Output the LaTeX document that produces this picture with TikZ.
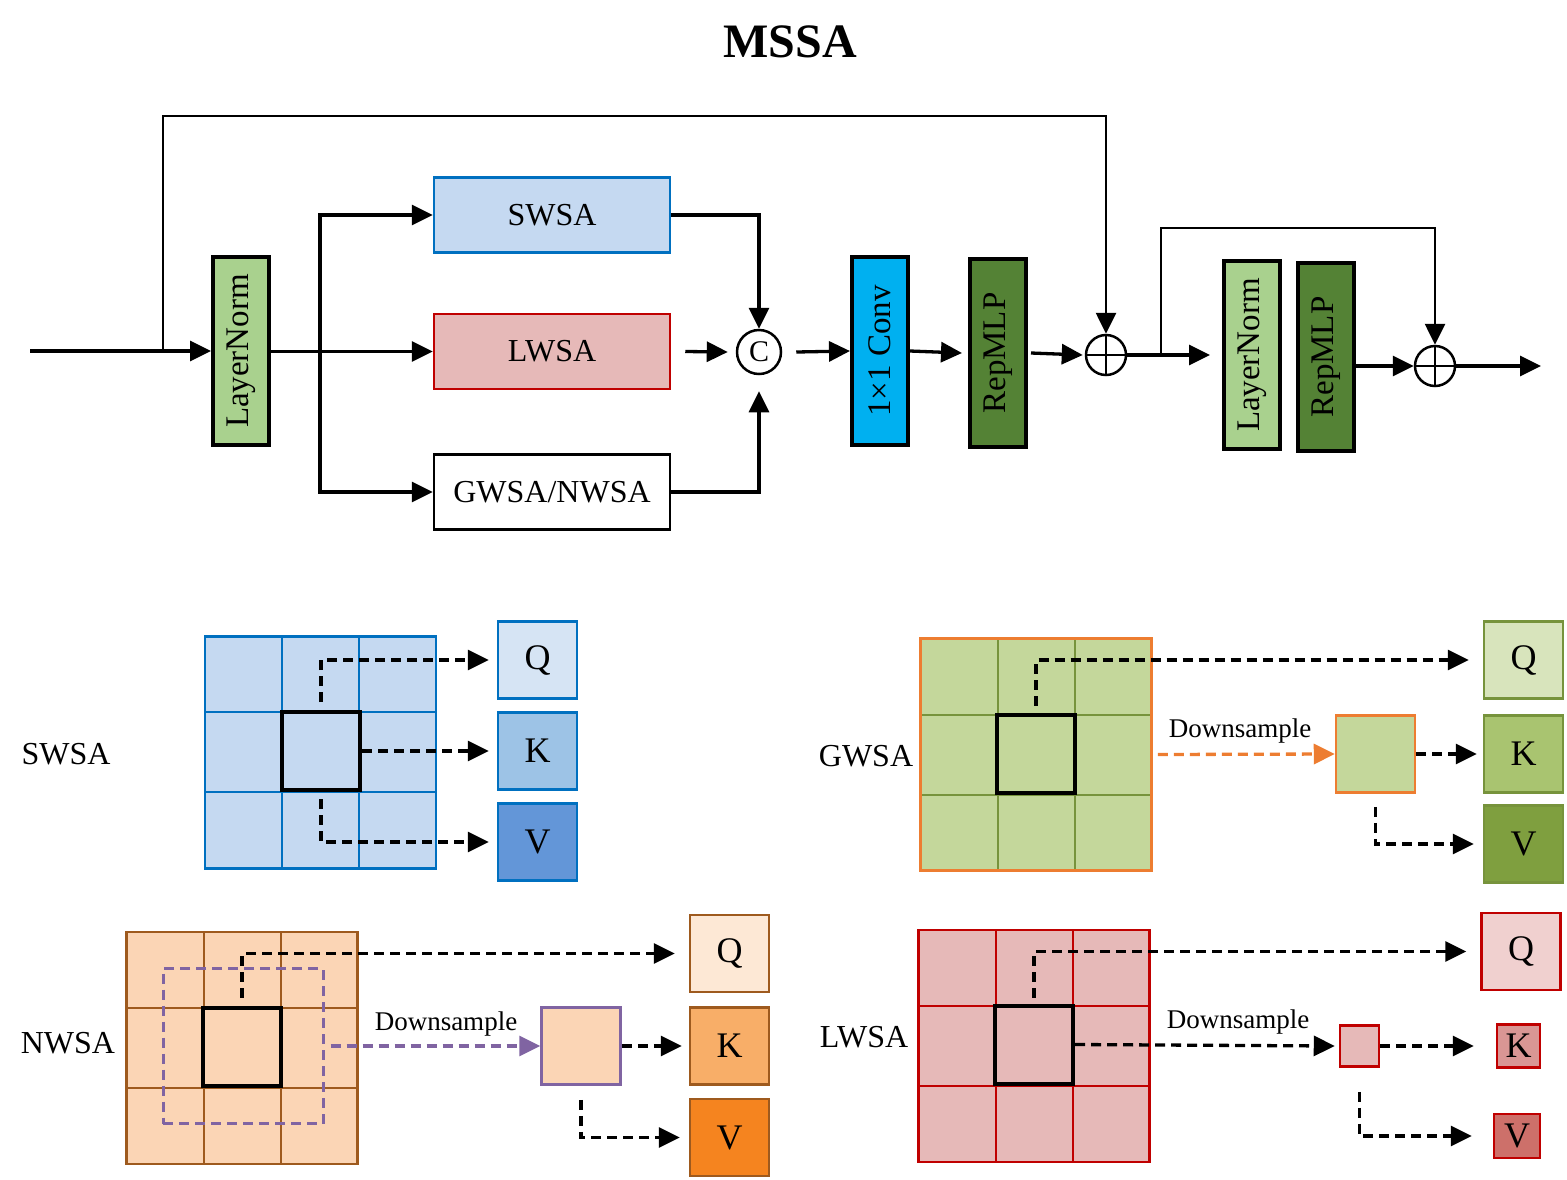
\documentclass[tikz,border=0pt]{standalone}
\usepackage{fontspec}
\setmainfont{Liberation Serif}
\usepackage{graphicx}
\usepackage{xcolor}
\usetikzlibrary{arrows.meta, positioning}

\definecolor{lnG}{HTML}{A9D18E}
\definecolor{mlpG}{HTML}{548235}
\definecolor{convB}{HTML}{00B0F0}
\definecolor{swB}{HTML}{C5D9F1}
\definecolor{swL}{HTML}{0070C0}
\definecolor{swQ}{HTML}{D6E4F4}
\definecolor{swK}{HTML}{9DC3E6}
\definecolor{swV}{HTML}{6396D8}
\definecolor{lwR}{HTML}{E6B9B8}
\definecolor{lwL}{HTML}{C00000}
\definecolor{lwQ}{HTML}{F0D0CF}
\definecolor{lwK}{HTML}{D99694}
\definecolor{lwV}{HTML}{CD706A}
\definecolor{gwG}{HTML}{C4D79B}
\definecolor{gwL}{HTML}{77933C}
\definecolor{gwO}{HTML}{ED7D31}
\definecolor{gwQ}{HTML}{D8E4BC}
\definecolor{gwK}{HTML}{A9C470}
\definecolor{gwV}{HTML}{7F9F3F}
\definecolor{nwP}{HTML}{FBD5B5}
\definecolor{nwL}{HTML}{9E5A1E}
\definecolor{nwU}{HTML}{8064A2}
\definecolor{nwQ}{HTML}{FDE8D5}
\definecolor{nwK}{HTML}{F8AE68}
\definecolor{nwV}{HTML}{F5841F}

\begin{document}
\begin{tikzpicture}[x=1pt, y=-1pt,
  hbox/.style={draw, line width=2.5pt, minimum width=236pt, minimum height=75pt,
               inner sep=0pt, font=\fontsize{32}{38}\selectfont},
  vbox/.style={draw, line width=4pt, minimum width=56pt, minimum height=188pt,
               inner sep=0pt, font=\fontsize{33}{38}\selectfont},
  catc/.style={circle, draw, line width=2.5pt, minimum size=44pt, inner sep=0pt,
               font=\fontsize{30}{34}\selectfont},
  addc/.style={circle, draw, line width=2.5pt, minimum size=40pt, inner sep=0pt,
               path picture={\draw[line width=2pt]
                 (path picture bounding box.north) -- (path picture bounding box.south)
                 (path picture bounding box.west) -- (path picture bounding box.east);}},
  arr/.style={-{Triangle[length=21pt,width=20pt]}, line width=3.3pt},
  darr/.style={arr, line width=3.3pt, dash pattern=on 10pt off 6pt},
  gridbox/.style={draw, line width=2.5pt, minimum width=231pt, minimum height=232pt, inner sep=0pt},
  winbox/.style={draw, line width=4pt, minimum width=78pt, minimum height=78pt, inner sep=0pt},
  qkv/.style={draw, line width=2.5pt, minimum width=79pt, minimum height=77pt,
              inner sep=0pt, font=\fontsize{36}{40}\selectfont},
  sqkv/.style={qkv, minimum width=43pt, minimum height=43pt},
  lbl/.style={font=\fontsize{32}{38}\selectfont},
  ds/.style={font=\fontsize{27}{32}\selectfont}]
\useasboundingbox (0,0) rectangle (1567,1179);

\node[font=\fontsize{48}{54}\selectfont\bfseries] (title) at (790,42) {MSSA};

% top block
\node[vbox, fill=lnG] (ln1) at (241,351) {\rotatebox{90}{LayerNorm}};
\node[hbox, fill=swB, draw=swL] (swsa) at (552,215) {SWSA};
\node[hbox, fill=lwR, draw=lwL] (lwsa) at (552,351.5) {LWSA};
\node[hbox, fill=white] (gwsa) at (552,492) {GWSA/NWSA};
\node[catc] (cat) at (759,352) {C};
\node[vbox, fill=convB] (conv) at (880,351) {\rotatebox{90}{1×1 Conv}};
\node[vbox, fill=mlpG] (mlp1) at (998,353) {\rotatebox{90}{RepMLP}};
\node[addc] (add1) at (1106,355) {};
\node[vbox, fill=lnG] (ln2) at (1252,355) {\rotatebox{90}{LayerNorm}};
\node[vbox, fill=mlpG] (mlp2) at (1326,357) {\rotatebox{90}{RepMLP}};
\node[addc] (add2) at (1435,366) {};

\coordinate (in) at (30,351);
\coordinate (sk) at (163,351);
\coordinate (skt) at (163,116);
\coordinate (br) at (320,351.5);
\coordinate (br2) at (1161,355);
\coordinate (br2t) at (1161,228);
\coordinate (out) at (1541,366);

\draw[arr] (in) -- (ln1.west);
\draw[arr, line width=2.7pt] (sk) -- (skt) -| (add1.north);
\draw[arr] (ln1.east |- lwsa.west) -- (lwsa.west);
\draw[arr] (br) |- (swsa.west);
\draw[arr] (br) |- (gwsa.west);
\draw[arr] (swsa.east) -| (cat.north);
\draw[arr] ([xshift=14pt]lwsa.east) -- ([xshift=-8pt]cat.west);
\draw[arr] (gwsa.east) -| ([yshift=-16pt]cat.south);
\draw[arr] ([xshift=14pt]cat.east) -- (conv.west);
\draw[arr] (conv.east) -- ([xshift=-6pt]mlp1.west);
\draw[arr] ([xshift=3pt]mlp1.east) -- ([xshift=-2pt]add1.west);
\draw[arr] (add1.east) -- ([xshift=-12pt]ln2.west);
\draw[arr, line width=2.7pt] (br2) -- (br2t) -| (add2.north);
\draw[arr] (mlp2.east |- add2.west) -- (add2.west);
\draw[arr] (add2.east) -- (out);

% SWSA window
\node[lbl] (swl) at (66,754) {SWSA};
\node[gridbox, fill=swB, draw=swL] (swg) at (320.5,752.5) {};
\foreach \x in {282,359} \draw[swL, line width=2.5pt] (\x,636) -- (\x,869);
\foreach \y in {712,792} \draw[swL, line width=2.5pt] (205,\y) -- (436,\y);
\node[winbox] (swc) at (321,751) {};
\node[qkv, fill=swQ, draw=swL] (swq) at (537.5,660) {Q};
\node[qkv, fill=swK, draw=swL] (swk) at (537.5,751) {K};
\node[qkv, fill=swV, draw=swL] (swv) at (537.5,842) {V};
\draw[darr] ([yshift=8pt]swc.north) |- ([xshift=-8pt]swq.west);
\draw[darr] (swc.east) -- ([xshift=-8pt]swk.west);
\draw[darr] ([yshift=-7pt]swc.south) |- ([xshift=-8pt]swv.west);

% GWSA window
\node[lbl] (gwl) at (866,756) {GWSA};
\node[gridbox, fill=gwG, draw=gwO] (gwg) at (1036,754.5) {};
\foreach \x in {998,1075} \draw[gwL, line width=2.5pt] (\x,640) -- (\x,869);
\foreach \y in {715,795} \draw[gwL, line width=2.5pt] (922,\y) -- (1150,\y);
\node[winbox] (gwc) at (1036,753.5) {};
\node[qkv, fill=gwG, draw=gwO] (gwd) at (1375.5,754) {};
\node[ds] (gwt) at (1240,731) {Downsample};
\node[qkv, fill=gwQ, draw=gwL] (gwq) at (1523.5,660) {Q};
\node[qkv, fill=gwK, draw=gwL] (gwk) at (1523.5,754) {K};
\node[qkv, fill=gwV, draw=gwL] (gwv) at (1523.5,844) {V};
\draw[darr, gwO] ([xshift=5pt]gwg.east) -- (gwd.west);
\draw[darr] ([yshift=7pt]gwc.north) |- ([xshift=-14pt]gwq.west);
\draw[darr] (gwd.east) -- ([xshift=-6pt]gwk.west);
\draw[darr] ([yshift=-13pt]gwd.south) |- ([xshift=-9pt]gwv.west);

% NWSA window
\node[lbl] (nwl) at (68,1043) {NWSA};
\node[gridbox, fill=nwP, draw=nwL] (nwg) at (242,1048) {};
\foreach \x in {204,281} \draw[nwL, line width=2.5pt] (\x,932) -- (\x,1164);
\foreach \y in {1008,1088} \draw[nwL, line width=2.5pt] (126,\y) -- (358,\y);
\node[winbox] (nwc) at (242,1046.5) {};
\node[draw=nwU, line width=3pt, dash pattern=on 10pt off 6pt,
      minimum width=160pt, minimum height=155pt] (nwr) at (243,1046) {};
\node[qkv, fill=nwP, draw=nwU] (nwd) at (581,1046) {};
\node[ds] (nwt) at (446,1024) {Downsample};
\node[qkv, fill=nwQ, draw=nwL] (nwq) at (729.5,953.5) {Q};
\node[qkv, fill=nwK, draw=nwL] (nwk) at (729.5,1046) {K};
\node[qkv, fill=nwV, draw=nwL] (nwv) at (729.5,1137.5) {V};
\draw[darr, nwU] ([xshift=6pt]nwr.east) -- (nwd.west);
\draw[darr] ([yshift=8pt]nwc.north) |- ([xshift=-14pt]nwq.west);
\draw[darr] (nwd.east) -- ([xshift=-7pt]nwk.west);
\draw[darr] ([yshift=-14pt]nwd.south) |- ([xshift=-9pt]nwv.west);

% LWSA window
\node[lbl] (lwl) at (864,1037) {LWSA};
\node[gridbox, fill=lwR, draw=lwL] (lwg) at (1034,1046) {};
\foreach \x in {996,1073} \draw[lwL, line width=2.5pt] (\x,930) -- (\x,1162);
\foreach \y in {1006,1086} \draw[lwL, line width=2.5pt] (918,\y) -- (1150,\y);
\node[winbox] (lwc) at (1034,1044.5) {};
\node[sqkv, fill=lwR, draw=lwL, minimum width=39pt, minimum height=41pt] (lwd) at (1359.5,1046) {};
\node[ds] (lwt) at (1238,1022) {Downsample};
\node[qkv, fill=lwQ, draw=lwL] (lwq) at (1521,951.5) {Q};
\node[sqkv, fill=lwK, draw=lwL] (lwk) at (1518.5,1046) {K};
\node[sqkv, fill=lwV, draw=lwL, minimum width=46pt, minimum height=44pt] (lwv) at (1517,1136) {V};
\draw[darr] ([yshift=6pt]lwc.north) |- ([xshift=-14pt]lwq.west);
\draw[darr] (lwc.east) -- ([xshift=-4pt]lwd.west);
\draw[darr] (lwd.east) -- ([xshift=-22pt]lwk.west);
\draw[darr] ([yshift=-24pt]lwd.south) |- ([xshift=-21pt]lwv.west);
\end{tikzpicture}
\end{document}
